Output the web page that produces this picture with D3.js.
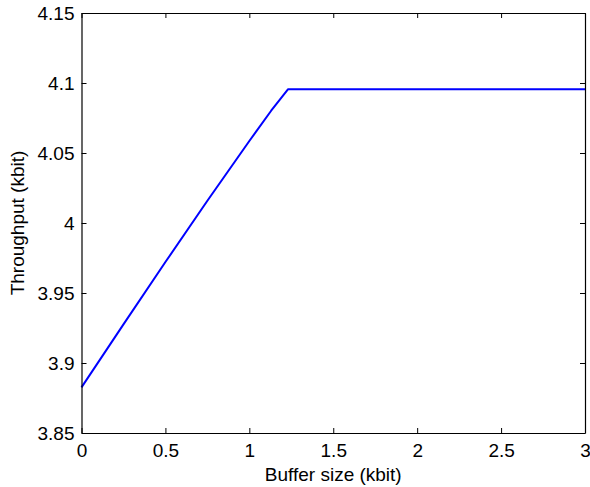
<!DOCTYPE html>
<html><head><meta charset="utf-8">
<script src="https://cdn.jsdelivr.net/npm/d3@7"></script>
<style>body{margin:0;background:#fff}svg text{font-family:"Liberation Sans",Arial,Helvetica,sans-serif;fill:#000}</style>
</head><body><svg id="c" width="590" height="487"></svg>
<script>
const bufferSize = [0, 0.25, 0.5, 0.75, 1.0, 1.13, 1.23, 1.5, 2.0, 2.5, 3.0];
const throughput = [3.8826, 3.9276, 3.9721, 4.0159, 4.0586, 4.0802, 4.0955, 4.0955, 4.0955, 4.0955, 4.0955];
const xTicks = [0, 0.5, 1, 1.5, 2, 2.5, 3];
const yTicks = [3.85, 3.9, 3.95, 4, 4.05, 4.1, 4.15];
const xLabel = "Buffer size (kbit)";
const yLabel = "Throughput (kbit)";

const svg = d3.select("#c");
const L = 81.5, R = 585, T = 13, B = 433;
const x = d3.scaleLinear().domain([0, 3]).range([L, R]);
const y = d3.scaleLinear().domain([3.85, 4.15]).range([B, T]);
const fs = 19;

// line
const data = bufferSize.map((d, i) => [d, throughput[i]]);
svg.append("path").datum(data)
  .attr("d", d3.line().x(d => x(d[0])).y(d => y(d[1])))
  .attr("fill", "none").attr("stroke", "#0000ff").attr("stroke-width", 2).attr("stroke-linejoin", "round");

// axes
const fmt = d => String(d);
const axB = svg.append("g").attr("transform", `translate(0,${B})`)
  .call(d3.axisBottom(x).tickValues(xTicks).tickFormat(fmt).tickSizeInner(-5).tickSizeOuter(0).tickPadding(10));
const axT = svg.append("g").attr("transform", `translate(0,${T})`)
  .call(d3.axisTop(x).tickValues(xTicks).tickFormat("").tickSizeInner(-5).tickSizeOuter(0));
const axL = svg.append("g").attr("transform", `translate(${L},0)`)
  .call(d3.axisLeft(y).tickValues(yTicks).tickFormat(fmt).tickSizeInner(-5).tickSizeOuter(0).tickPadding(12));
const axR = svg.append("g").attr("transform", `translate(${R},0)`)
  .call(d3.axisRight(y).tickValues(yTicks).tickFormat("").tickSizeInner(-5).tickSizeOuter(0));
[axB, axT, axL, axR].forEach(a => {
  a.selectAll("path.domain").attr("stroke", "#000").attr("stroke-width", 1.2);
  a.selectAll(".tick line").attr("stroke", "#000").attr("stroke-width", 1);
  a.selectAll("text").attr("font-size", fs).attr("font-family", "Liberation Sans, Arial, sans-serif").attr("fill", "#000");
});
axB.selectAll(".tick text").attr("y", 11).attr("dy", "0.71em");
axL.selectAll(".tick text").attr("x", -7);

svg.append("text").attr("x", (L + R) / 2).attr("y", 481).attr("text-anchor", "middle")
  .attr("font-size", fs).text(xLabel);
svg.append("text").attr("transform", `translate(24,${(T + B) / 2}) rotate(-90)`)
  .attr("text-anchor", "middle").attr("font-size", fs).text(yLabel);
</script></body></html>
